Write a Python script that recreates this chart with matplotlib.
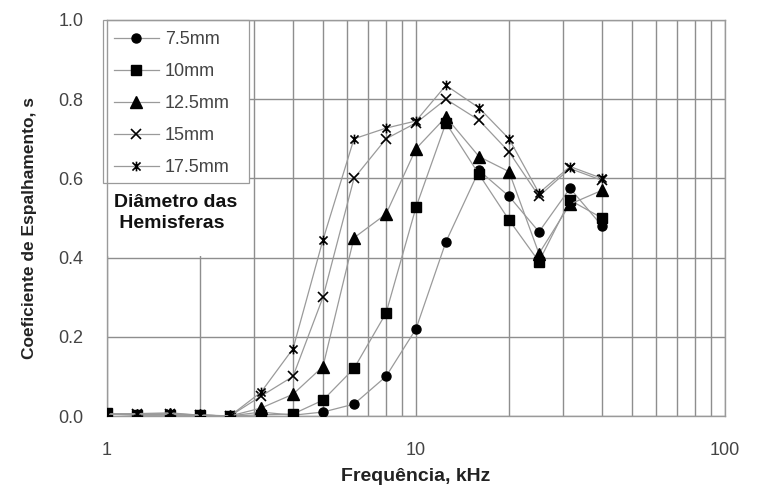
import matplotlib
matplotlib.use("Agg")
import matplotlib.pyplot as plt
from matplotlib.path import Path
from matplotlib.patches import Rectangle
from matplotlib.ticker import FixedLocator, NullFormatter, FormatStrFormatter, NullLocator, LogLocator

# third-octave centre frequencies, kHz
freq = [1, 1.25, 1.6, 2, 2.5, 3.15, 4, 5, 6.3, 8, 10, 12.5, 16, 20, 25, 31.5, 40]

s_7_5 = [0.005, 0.002, 0.002, 0.002, 0.0, 0.01, 0.002, 0.01, 0.03, 0.10, 0.22, 0.44, 0.62, 0.555, 0.465, 0.575, 0.48]
s_10 = [0.007, 0.003, 0.003, 0.003, 0.0, 0.003, 0.005, 0.04, 0.12, 0.26, 0.527, 0.74, 0.61, 0.495, 0.39, 0.545, 0.50]
s_12_5 = [0.005, 0.003, 0.004, 0.002, 0.0, 0.02, 0.055, 0.125, 0.45, 0.51, 0.675, 0.755, 0.655, 0.617, 0.41, 0.535, 0.57]
s_15 = [0.005, 0.005, 0.006, 0.002, 0.0, 0.05, 0.10, 0.30, 0.60, 0.70, 0.74, 0.80, 0.747, 0.667, 0.555, 0.625, 0.595]
s_17_5 = [0.005, 0.006, 0.008, 0.002, 0.0, 0.06, 0.17, 0.445, 0.70, 0.727, 0.745, 0.835, 0.778, 0.70, 0.563, 0.63, 0.60]

labels = ["7.5mm", "10mm", "12.5mm", "15mm", "17.5mm"]

# excel-style star: an x with a vertical bar through it
star = Path([(-1, -1), (1, 1), (-1, 1), (1, -1), (0, -1.2), (0, 1.2)],
            [Path.MOVETO, Path.LINETO, Path.MOVETO, Path.LINETO, Path.MOVETO, Path.LINETO])

styles = [
    dict(marker="o", ms=6.5),
    dict(marker="s", ms=7.5),
    dict(marker="^", ms=8),
    dict(marker="x", ms=7, mew=1.2),
    dict(marker=star, ms=7, mew=1.2),
]

plt.rcParams["font.family"] = ["Liberation Sans", "DejaVu Sans"]

fig = plt.figure(figsize=(7.57, 4.86), dpi=100)
ax = fig.add_axes([107 / 757, 1 - 416 / 486, 618 / 757, 396 / 486])

for ys, lab, st in zip([s_7_5, s_10, s_12_5, s_15, s_17_5], labels, styles):
    ax.plot(freq, ys, color="#9a9a9a", lw=0.9, mfc="black", mec="black",
            label=lab, zorder=3, **st)

ax.set_xscale("log")
ax.set_xlim(1, 100)
ax.set_ylim(0, 1.0)
ax.set_yticks([0, 0.2, 0.4, 0.6, 0.8, 1.0])
ax.yaxis.set_major_formatter(FormatStrFormatter("%.1f"))
ax.yaxis.set_minor_locator(NullLocator())
ax.xaxis.set_major_locator(FixedLocator([1, 10, 100]))
ax.xaxis.set_major_formatter(FormatStrFormatter("%g"))
ax.xaxis.set_minor_locator(LogLocator(base=10, subs=range(2, 10)))
ax.xaxis.set_minor_formatter(NullFormatter())

ax.set_axisbelow(True)
ax.xaxis.grid(True, which="both", color="#8e8e8e", lw=1.0)
ax.yaxis.grid(True, which="major", color="#8e8e8e", lw=1.0)
for sp in ax.spines.values():
    sp.set_color("#9a9a9a")
    sp.set_linewidth(1.0)

ax.tick_params(which="both", length=0, labelsize=13, labelcolor="#444444")
ax.tick_params(axis="x", pad=19)
ax.tick_params(axis="y", pad=17)

ax.set_xlabel("Frequência, kHz", labelpad=6, fontsize=14, fontweight="bold", color="#222222")
ax.set_ylabel("Coeficiente de Espalhamento, s", fontsize=12.5, fontweight="bold", color="#222222")
ax.yaxis.set_label_coords(-0.113, 0.475)

# white block behind legend and caption (the grid is hidden there)
ax.add_patch(Rectangle((0, 0.405), 0.232, 0.595, transform=ax.transAxes,
                       fc="white", ec="none", zorder=1))

leg = ax.legend(loc="upper left", bbox_to_anchor=(-0.007, 1.0), borderaxespad=0,
                fontsize=13, frameon=False,
                handlelength=2.5, handletextpad=0.35, labelspacing=0.84,
                borderpad=0.6)
for t in leg.get_texts():
    t.set_color("#444444")

# legend frame drawn separately so it can be a bit wider than the text
ax.add_patch(Rectangle((-0.0065, 0.588), 0.2363, 0.412, transform=ax.transAxes,
                       fc="none", ec="#9a9a9a", lw=0.9, zorder=4, clip_on=False))

ax.text(0.012, 0.56, "Diâmetro das\n Hemisferas", transform=ax.transAxes,
        ha="left", va="top", fontsize=14, fontweight="bold", color="#111111",
        linespacing=1.3, zorder=4)

fig.savefig("out.png", dpi=100)
